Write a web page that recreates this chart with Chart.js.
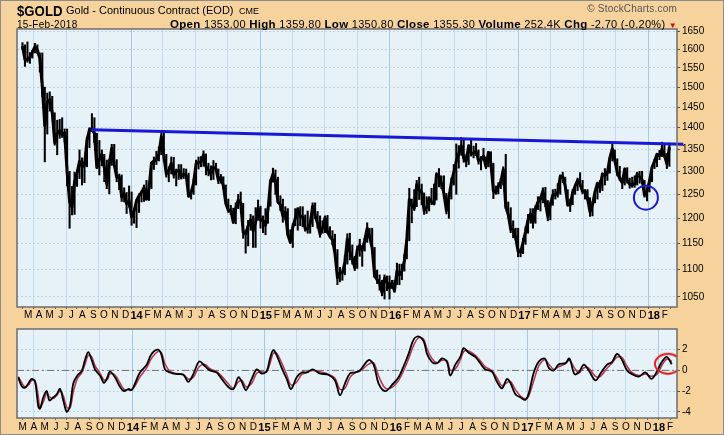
<!DOCTYPE html>
<html>
<head>
<meta charset="utf-8">
<title>$GOLD - Gold Continuous Contract</title>
<script src="https://cdn.jsdelivr.net/npm/chart.js@4.4.1/dist/chart.umd.min.js"></script>
<style>
  html, body { margin: 0; padding: 0; }
  body {
    width: 724px; height: 435px; position: relative; overflow: hidden;
    background: #f6d39d; color: #000;
    font-family: "Liberation Sans", Arial, sans-serif;
  }
  canvas { position: absolute; left: 0; }
  #priceCanvas { top: 0; }
  #oscCanvas { top: 321px; }
  #edge { position: absolute; left: 0; top: 0; width: 722px; height: 433px; border: 1px solid #8c8c8c; }
  .txt { position: absolute; white-space: nowrap; line-height: 1; }
  #sym { left: 17px; top: 3px; font-size: 15px; font-weight: bold; transform: scaleX(0.88); transform-origin: left top; }
  #desc { left: 66px; top: 5px; font-size: 11px; }
  #cme { left: 239px; top: 7px; font-size: 9px; }
  #copy { right: 47px; top: 4px; font-size: 10px; color: #555; letter-spacing: 0.2px; }
  #date { left: 17px; top: 20px; font-size: 10px; letter-spacing: 0.3px; }
  #quote { right: 47px; top: 19px; font-size: 11px; letter-spacing: 0.3px; }
  #quote b { font-size: 11.5px; }
  #quote .dn { color: #d01010; font-size: 8px; }
</style>
</head>
<body>
<canvas id="priceCanvas" width="724" height="322"></canvas>
<canvas id="oscCanvas" width="724" height="114"></canvas>
<div id="edge"></div>
<div class="txt" id="sym">$GOLD</div>
<div class="txt" id="desc">Gold - Continuous Contract (EOD)</div>
<div class="txt" id="cme">CME</div>
<div class="txt" id="copy">© StockCharts.com</div>
<div class="txt" id="date">15-Feb-2018</div>
<div class="txt" id="quote"><b>Open</b> 1353.00 <b>High</b> 1359.80 <b>Low</b> 1350.80 <b>Close</b> 1355.30 <b>Volume</b> 252.4K <b>Chg</b> -2.70 (-0.20%) <span class="dn">▼</span></div>

<script>
// weekly high / low / close of the gold contract, one value per week starting mid-Feb 2013
const weekHigh = [
  // 2013
  1618, 1612, 1620, 1591, 1597, 1616, 1612, 1590, 1590, 1500, 1485, 1488, 1477, 1436, 1418, 1420,
  1424, 1397, 1397, 1300, 1267, 1298, 1300, 1348, 1330, 1322, 1378, 1400, 1434, 1424, 1387, 1370,
  1348, 1338, 1325, 1327, 1361, 1361, 1326, 1294, 1292, 1264, 1254, 1268, 1255, 1220,
  // 2014
  1238, 1251, 1256, 1270, 1280, 1270, 1320, 1332, 1345, 1355, 1392, 1392, 1338, 1310, 1332, 1331,
  1305, 1315, 1315, 1306, 1305, 1296, 1259, 1283, 1325, 1332, 1333, 1346, 1339, 1318, 1312, 1324,
  1318, 1305, 1293, 1288, 1270, 1240, 1227, 1221, 1232, 1250, 1255, 1231, 1176, 1196, 1208, 1205,
  1222, 1238, 1225, 1205,
  // 2015
  1220, 1225, 1282, 1307, 1303, 1287, 1247, 1240, 1224, 1220, 1177, 1189, 1220, 1222, 1224, 1224,
  1207, 1215, 1196, 1232, 1232, 1214, 1205, 1195, 1205, 1206, 1183, 1175, 1168, 1138, 1104, 1096,
  1126, 1169, 1170, 1147, 1125, 1145, 1158, 1145, 1160, 1191, 1180, 1180, 1142, 1099, 1090, 1080,
  1090, 1088, 1088, 1080,
  // 2016
  1080, 1112, 1110, 1110, 1128, 1160, 1263, 1240, 1260, 1280, 1287, 1272, 1253, 1245, 1245, 1263,
  1272, 1297, 1306, 1290, 1290, 1252, 1245, 1285, 1315, 1362, 1358, 1377, 1375, 1337, 1360, 1372,
  1357, 1363, 1348, 1333, 1352, 1332, 1345, 1344, 1318, 1268, 1275, 1284, 1310, 1338, 1234, 1222,
  1195, 1180, 1180, 1140, 1160,
  // 2017
  1183, 1208, 1220, 1220, 1226, 1245, 1245, 1264, 1265, 1237, 1233, 1260, 1261, 1273, 1292, 1298,
  1287, 1260, 1240, 1260, 1270, 1285, 1297, 1280, 1260, 1260, 1243, 1235, 1257, 1274, 1280, 1296,
  1306, 1300, 1331, 1362, 1348, 1328, 1311, 1285, 1307, 1308, 1285, 1287, 1290, 1298, 1300, 1300,
  1280, 1264, 1281, 1310,
  // 2018
  1327, 1340, 1347, 1366, 1360, 1340, 1364
];
const weekLow = [
  // 2013
  1600, 1554, 1565, 1562, 1576, 1590, 1588, 1539, 1476, 1321, 1385, 1440, 1430, 1359, 1337, 1375,
  1377, 1366, 1268, 1180, 1207, 1208, 1267, 1284, 1270, 1275, 1310, 1353, 1391, 1365, 1308, 1292,
  1312, 1277, 1262, 1251, 1313, 1310, 1277, 1260, 1235, 1234, 1210, 1223, 1186, 1190,
  // 2014
  1181, 1212, 1234, 1235, 1238, 1237, 1262, 1304, 1315, 1323, 1337, 1321, 1287, 1277, 1294, 1285,
  1268, 1282, 1283, 1284, 1285, 1245, 1240, 1250, 1270, 1305, 1310, 1311, 1292, 1290, 1281, 1282,
  1302, 1273, 1274, 1262, 1228, 1212, 1208, 1190, 1189, 1220, 1228, 1160, 1131, 1145, 1176, 1142,
  1142, 1196, 1180, 1171,
  // 2015
  1167, 1190, 1225, 1276, 1250, 1232, 1216, 1192, 1197, 1164, 1150, 1142, 1185, 1176, 1185, 1183,
  1174, 1170, 1170, 1183, 1200, 1180, 1162, 1170, 1171, 1170, 1161, 1147, 1131, 1072, 1077, 1080,
  1090, 1110, 1118, 1110, 1098, 1102, 1125, 1106, 1135, 1152, 1160, 1140, 1085, 1074, 1062, 1052,
  1046, 1061, 1046, 1065,
  // 2016
  1058, 1072, 1072, 1081, 1097, 1120, 1155, 1191, 1216, 1224, 1239, 1228, 1208, 1210, 1215, 1228,
  1229, 1238, 1266, 1262, 1242, 1209, 1200, 1240, 1270, 1250, 1307, 1336, 1320, 1310, 1315, 1334,
  1330, 1335, 1316, 1303, 1323, 1306, 1310, 1309, 1241, 1250, 1251, 1262, 1270, 1220, 1205, 1171,
  1161, 1157, 1124, 1124, 1130,
  // 2017
  1148, 1170, 1190, 1180, 1190, 1218, 1215, 1232, 1224, 1195, 1197, 1227, 1240, 1244, 1250, 1275,
  1260, 1225, 1214, 1228, 1250, 1258, 1267, 1251, 1240, 1237, 1204, 1205, 1232, 1240, 1254, 1258,
  1270, 1280, 1296, 1323, 1320, 1290, 1280, 1262, 1270, 1274, 1263, 1265, 1265, 1270, 1274, 1273,
  1244, 1236, 1255, 1277,
  // 2018
  1306, 1310, 1326, 1333, 1331, 1306, 1311
];
const weekClose = [
  // 2013
  1609, 1572, 1572, 1578, 1592, 1606, 1598, 1575, 1501, 1405, 1462, 1468, 1437, 1365, 1386, 1393,
  1383, 1388, 1298, 1234, 1223, 1277, 1296, 1322, 1310, 1313, 1370, 1395, 1396, 1387, 1308, 1326,
  1338, 1309, 1272, 1315, 1352, 1315, 1287, 1288, 1244, 1251, 1230, 1236, 1203, 1215,
  // 2014
  1237, 1247, 1254, 1264, 1240, 1262, 1318, 1323, 1326, 1339, 1379, 1334, 1294, 1303, 1318, 1293,
  1300, 1302, 1288, 1293, 1292, 1246, 1253, 1274, 1317, 1320, 1320, 1337, 1310, 1303, 1294, 1309,
  1306, 1280, 1287, 1268, 1231, 1216, 1217, 1192, 1221, 1238, 1232, 1172, 1169, 1185, 1197, 1175,
  1192, 1222, 1196, 1196,
  // 2015
  1186, 1217, 1277, 1294, 1279, 1234, 1228, 1205, 1213, 1167, 1152, 1182, 1200, 1219, 1204, 1203,
  1179, 1179, 1189, 1225, 1206, 1190, 1168, 1180, 1201, 1173, 1163, 1157, 1131, 1085, 1094, 1094,
  1113, 1159, 1134, 1121, 1103, 1137, 1146, 1137, 1156, 1180, 1162, 1141, 1088, 1081, 1075, 1057,
  1084, 1076, 1066, 1075,
  // 2016
  1061, 1097, 1090, 1097, 1116, 1158, 1239, 1227, 1221, 1271, 1259, 1255, 1216, 1222, 1241, 1234,
  1230, 1293, 1290, 1273, 1252, 1216, 1244, 1275, 1298, 1323, 1340, 1358, 1329, 1323, 1357, 1340,
  1341, 1345, 1324, 1327, 1334, 1310, 1342, 1317, 1257, 1254, 1267, 1277, 1304, 1224, 1208, 1178,
  1178, 1162, 1134, 1133, 1152,
  // 2017
  1173, 1197, 1209, 1191, 1220, 1234, 1240, 1257, 1234, 1203, 1229, 1249, 1249, 1254, 1289, 1288,
  1268, 1228, 1228, 1254, 1268, 1280, 1271, 1256, 1257, 1242, 1213, 1228, 1255, 1274, 1264, 1294,
  1291, 1297, 1330, 1351, 1325, 1297, 1284, 1275, 1305, 1280, 1272, 1270, 1273, 1294, 1288, 1281,
  1248, 1257, 1279, 1309,
  // 2018
  1322, 1338, 1335, 1350, 1337, 1316, 1355
];

// oscillator (black) and its signal line (red), as decimal years
const oscYear = [
  2013.128, 2013.153, 2013.179, 2013.204, 2013.229, 2013.255, 2013.280, 2013.293, 2013.318, 2013.344,
  2013.364, 2013.394, 2013.420, 2013.445, 2013.470, 2013.496, 2013.521, 2013.546, 2013.577, 2013.610,
  2013.635, 2013.660, 2013.686, 2013.711, 2013.749, 2013.779, 2013.805, 2013.825, 2013.863, 2013.901,
  2013.932, 2013.964, 2013.990,
  2014.015, 2014.053, 2014.104, 2014.142, 2014.192, 2014.218, 2014.243, 2014.281, 2014.332, 2014.383,
  2014.421, 2014.459, 2014.504, 2014.548, 2014.586, 2014.636, 2014.675, 2014.725, 2014.763, 2014.801,
  2014.827, 2014.859, 2014.903, 2014.941, 2014.979,
  2015.017, 2015.042, 2015.067, 2015.093, 2015.131, 2015.169, 2015.202, 2015.245, 2015.283, 2015.321,
  2015.367, 2015.422, 2015.485, 2015.536, 2015.574, 2015.612, 2015.650, 2015.688, 2015.726, 2015.792,
  2015.830, 2015.868, 2015.919, 2015.970,
  2016.020, 2016.058, 2016.096, 2016.135, 2016.173, 2016.211, 2016.236, 2016.274, 2016.312, 2016.350,
  2016.388, 2016.413, 2016.451, 2016.489, 2016.515, 2016.553, 2016.603, 2016.641, 2016.679, 2016.730,
  2016.768, 2016.806, 2016.844, 2016.870, 2016.908, 2016.946, 2016.984,
  2017.010, 2017.048, 2017.086, 2017.132, 2017.162, 2017.200, 2017.238, 2017.289, 2017.319, 2017.357,
  2017.390, 2017.428, 2017.466, 2017.517, 2017.555, 2017.605, 2017.643, 2017.681, 2017.719, 2017.757,
  2017.795, 2017.846, 2017.897, 2017.943, 2017.986,
  2018.021, 2018.059, 2018.097
];
const oscMain = [
  -0.67, -1.5, -1.67, -1.27, -0.82, -1.1, -3.5, -3.7, -2.6, -2.0, -2.9, -2.6, -2.3, -1.8, -2.9, -4.0,
  -3.4, -1.27, -0.5, -0.06, 1.0, 1.76, 1.0, 0.1, -0.5, -1.2, -0.67, -0.12, -0.67, -1.58, -2.0, -1.8, -1.9,
  -1.27, -0.2, 0.55, 1.6, 2.0, 1.45, 0.1, -0.2, -0.36, -0.42, -1.1, -0.36, 0.85, 0.4, 0.0, -0.2, -0.82,
  -1.6, -1.8, -0.67, -1.1, -1.9, -0.82, 0.1, -0.3,
  -0.06, 1.15, 1.97, 1.45, 0.24, -0.82, -1.8, -0.67, -0.2, -0.2, 0.1, -0.3, -0.42, -0.97, -2.4, -1.27,
  -0.3, -0.2, 0.0, 1.0, 0.55, -1.27, -2.0, -1.4,
  -0.67, 0.4, 1.6, 3.0, 3.27, 2.8, 1.6, 0.8, 0.7, 1.15, 0.8, -0.5, 0.55, 1.3, 2.15, 1.7, 1.3, 0.7, 0.1,
  -0.12, -1.1, -1.73, -0.82, -1.2, -2.3, -2.6, -2.85,
  -2.2, -0.2, 0.85, 1.15, 0.24, 0.0, 0.6, 0.7, 1.15, -0.36, -0.2, 0.55, 0.0, -0.97, -0.3, 0.55, 0.8,
  1.6, 1.0, 0.0, -0.36, -0.6, -0.2, -0.82, -0.06,
  0.8, 1.3, 0.6
];
const oscSignal = [
  -0.6, -1.17, -1.6, -1.43, -1.0, -0.99, -2.54, -3.62, -3.04, -2.24, -2.54, -2.72, -2.42, -2.0, -2.46,
  -3.56, -3.64, -2.12, -0.81, -0.24, 0.58, 1.46, 1.3, 0.46, -0.26, -0.92, -0.88, -0.34, -0.45, -1.22,
  -1.83, -1.88, -1.86,
  -1.52, -0.63, 0.25, 1.18, 1.84, 1.67, 0.64, -0.08, -0.3, -0.4, -0.83, -0.66, 0.37, 0.58, 0.16, -0.12,
  -0.57, -1.29, -1.72, -1.12, -0.93, -1.58, -1.25, -0.27, -0.14,
  -0.16, 0.67, 1.64, 1.66, 0.72, -0.4, -1.41, -1.12, -0.39, -0.2, -0.02, -0.14, -0.37, -0.75, -1.83,
  -1.72, -0.69, -0.24, -0.08, 0.6, 0.73, -0.54, -1.71, -1.64,
  -0.96, -0.03, 1.12, 2.44, 3.16, 2.99, 2.08, 1.12, 0.74, 0.97, 0.94, 0.02, 0.13, 1.0, 1.81, 1.88, 1.46,
  0.94, 0.34, -0.03, -0.71, -1.48, -1.18, -1.05, -1.86, -2.48, -2.75,
  -2.46, -1.0, 0.43, 1.03, 0.6, 0.1, 0.36, 0.66, 0.97, 0.24, -0.26, 0.25, 0.22, -0.58, -0.57, 0.21, 0.7,
  1.28, 1.24, 0.4, -0.22, -0.5, -0.36, -0.57, -0.36,
  0.46, 1.1, 0.88
];

// annotations drawn on the chart
const trendYear = [2013.650, 2018.228];
const trendPrice = [1395, 1361];
const priceMarkYear = [2017.939];
const priceMarkValue = [1243];
const oscMarkYear = [2018.068];
const oscMarkValue = [0.64];

// axes
const priceTicks = [1650, 1600, 1550, 1500, 1450, 1400, 1350, 1300, 1250, 1200, 1150, 1100, 1050];
const oscTicks = [2, 0, -2, -4];
const monthLetters = ['J', 'F', 'M', 'A', 'M', 'J', 'J', 'A', 'S', 'O', 'N', 'D'];

const X_MIN = 2013.118;
const X_MAX = 2018.137;
const WEEK_MS = 7 * 86400000;
const firstWeek = Date.UTC(2013, 1, 13);

function toYear(ms) {
  const y = new Date(ms).getUTCFullYear();
  const a = Date.UTC(y, 0, 1), b = Date.UTC(y + 1, 0, 1);
  return y + (ms - a) / (b - a);
}

const monthInfo = new Map();
for (let y = 2013; y <= 2018; y++) {
  for (let m = 0; m < 12; m++) monthInfo.set(toYear(Date.UTC(y, m, 1)), { y, m });
}

function monthTicks(scale) {
  scale.ticks = [...monthInfo.keys()]
    .filter(v => v >= scale.min && v <= scale.max)
    .map(v => ({ value: v }));
}
function monthLabel(value) {
  const info = monthInfo.get(value);
  if (!info) return '';
  return info.m === 0 ? String(info.y).slice(2) : monthLetters[info.m];
}
function monthFont(ctx) {
  const info = ctx.tick && monthInfo.get(ctx.tick.value);
  return info && info.m === 0 ? { size: 11, weight: 'bold' } : { size: 10 };
}
function monthGrid(ctx) {
  const info = ctx.tick && monthInfo.get(ctx.tick.value);
  if (!info) return 'transparent';
  if (info.m === 0) return '#a4cae4';
  return info.m % 3 === 0 ? '#c4dbec' : 'transparent';
}

const panel = {
  id: 'panel',
  beforeDraw(chart) {
    const { ctx, chartArea: a } = chart;
    ctx.save();
    ctx.fillStyle = '#e6f1f8';
    ctx.fillRect(a.left, a.top, a.right - a.left, a.bottom - a.top);
    ctx.restore();
  },
  afterDatasetsDraw(chart) {
    const { ctx, chartArea: a } = chart;
    ctx.save();
    ctx.strokeStyle = '#6e6e6e';
    ctx.lineWidth = 1.5;
    ctx.strokeRect(a.left, a.top, a.right - a.left, a.bottom - a.top);
    ctx.restore();
  }
};

function xAxis(pad) {
  return {
    type: 'linear', min: X_MIN, max: X_MAX,
    afterBuildTicks: monthTicks,
    afterFit: s => { s.height = pad.h; },
    ticks: { autoSkip: false, maxRotation: 0, callback: monthLabel, font: monthFont, color: '#000', padding: pad.p },
    grid: { color: monthGrid, lineWidth: 1, tickLength: 2, tickColor: '#666' },
    border: { display: false }
  };
}

Chart.defaults.font.family = '"Liberation Sans", Arial, sans-serif';
Chart.defaults.color = '#000';

const weekYear = weekHigh.map((_, i) => toYear(firstWeek + i * WEEK_MS));

new Chart(document.getElementById('priceCanvas'), {
  type: 'line',
  data: {
    datasets: [
      {
        label: 'Resistance',
        data: trendYear.map((x, i) => ({ x, y: trendPrice[i] })),
        borderColor: '#1717d6', borderWidth: 3, pointRadius: 0, clip: false, order: 0
      },
      {
        label: 'Low point', type: 'scatter',
        data: priceMarkYear.map((x, i) => ({ x, y: priceMarkValue[i] })),
        pointRadius: 12, borderWidth: 2, borderColor: '#1717d6', backgroundColor: 'rgba(0,0,0,0)', order: 0
      },
      {
        label: 'Close',
        data: weekYear.map((x, i) => ({ x, y: weekClose[i] })),
        borderColor: '#000', borderWidth: 3, pointRadius: 0, tension: 0,
        borderJoinStyle: 'round', order: 1
      },
      {
        label: 'Range', type: 'bar',
        data: weekYear.map((x, i) => ({ x, y: [weekLow[i], weekHigh[i]] })),
        backgroundColor: '#000', barThickness: 1.4, order: 2
      }
    ]
  },
  options: {
    responsive: false, animation: false,
    layout: { padding: { left: 17, top: 29, right: 0, bottom: 0 }, autoPadding: false },
    plugins: { legend: { display: false }, tooltip: { enabled: false } },
    scales: {
      x: xAxis({ h: 15, p: 0 }),
      y: {
        type: 'logarithmic', position: 'right', min: 1032, max: 1656,
        afterBuildTicks: s => { s.ticks = priceTicks.map(v => ({ value: v })); },
        afterFit: s => { s.width = 47; },
        ticks: { autoSkip: false, callback: v => String(v), font: { size: 10 }, color: '#000', padding: 2 },
        grid: { color: '#bdd3e4', tickLength: 3, tickColor: '#555' },
        border: { display: false, dash: [2, 2] }
      }
    }
  },
  plugins: [panel]
});

// red ellipse marker for the oscillator
const ellipse = document.createElement('canvas');
ellipse.width = 30; ellipse.height = 24;
const ec = ellipse.getContext('2d');
ec.strokeStyle = '#e01b1b'; ec.lineWidth = 2;
ec.beginPath(); ec.ellipse(15, 12, 13, 10, 0, 0, Math.PI * 2); ec.stroke();

new Chart(document.getElementById('oscCanvas'), {
  type: 'line',
  data: {
    datasets: [
      {
        label: 'Mark', type: 'scatter',
        data: oscMarkYear.map((x, i) => ({ x, y: oscMarkValue[i] })),
        pointStyle: ellipse, pointRadius: 12, order: 0
      },
      {
        label: 'Oscillator',
        data: oscYear.map((x, i) => ({ x, y: oscMain[i] })),
        borderColor: '#000', borderWidth: 1.8, pointRadius: 0, tension: 0.35, order: 1
      },
      {
        label: 'Signal',
        data: oscYear.map((x, i) => ({ x, y: oscSignal[i] })),
        borderColor: '#b8324e', borderWidth: 1.5, pointRadius: 0, tension: 0.35, order: 2
      },
      {
        label: 'Zero',
        data: [{ x: X_MIN, y: 0 }, { x: X_MAX, y: 0 }],
        borderColor: '#707070', borderWidth: 1, borderDash: [7, 3, 2, 3], pointRadius: 0, order: 3
      }
    ]
  },
  options: {
    responsive: false, animation: false,
    layout: { padding: { left: 17, top: 1, right: 0, bottom: 0 }, autoPadding: false },
    plugins: { legend: { display: false }, tooltip: { enabled: false } },
    scales: {
      x: xAxis({ h: 17, p: 1 }),
      y: {
        type: 'linear', position: 'right', min: -4.6, max: 4,
        afterBuildTicks: s => { s.ticks = oscTicks.map(v => ({ value: v })); },
        afterFit: s => { s.width = 47; },
        ticks: { autoSkip: false, callback: v => String(v), font: { size: 10 }, color: '#000', padding: 2 },
        grid: { color: '#bdd3e4', tickLength: 3, tickColor: '#555' },
        border: { display: false, dash: [2, 2] }
      }
    }
  },
  plugins: [panel]
});
</script>
</body>
</html>
